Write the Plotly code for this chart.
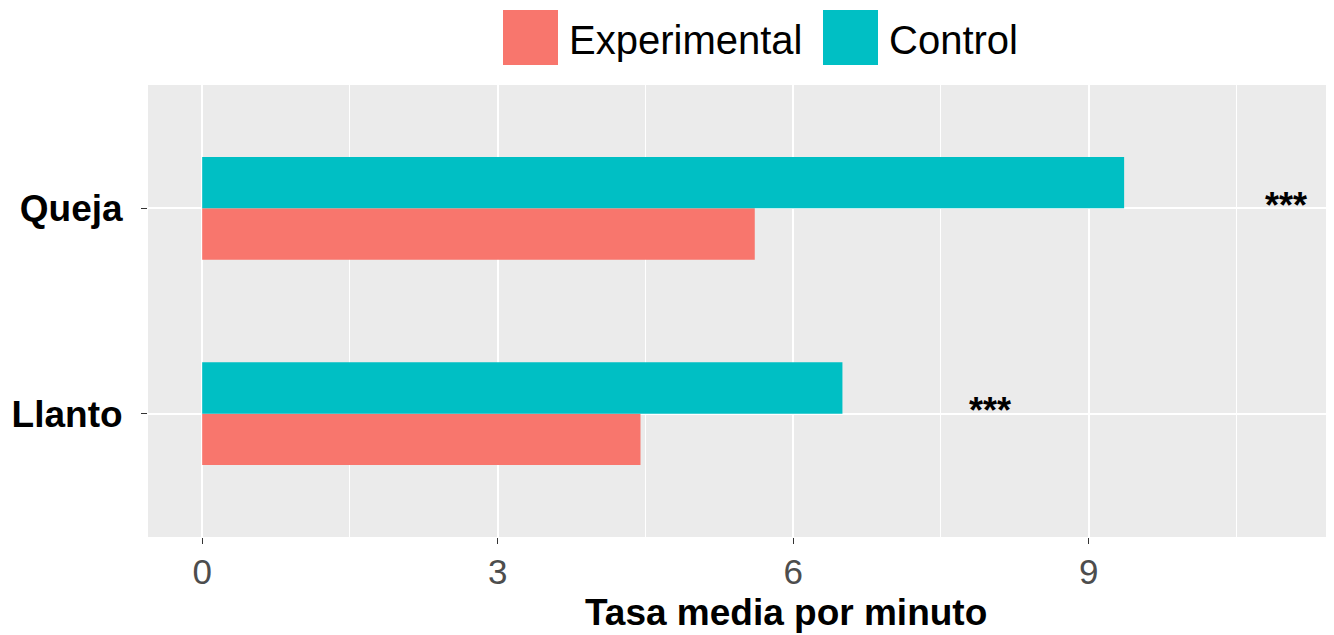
import plotly.graph_objects as go

# data
categories = ["Llanto", "Queja"]
experimental = [4.45, 5.61]
control = [6.50, 9.36]
sig_labels = ["***", "***"]
sig_x = [8.0, 11.0]

EXP_COLOR = "#F8766D"
CTL_COLOR = "#00BFC4"
FONT = "Liberation Sans, Arial, sans-serif"

# the page body adds an 8px margin, so the figure is drawn 8px smaller
OFF = 8
W, H = 1334 - OFF, 635 - OFF
L, R, T, B = 148 - OFF, 4, 85 - OFF, 635 - 537
pw, ph = W - L - R, H - T - B


def px_x(px):
    # page pixel -> paper fraction
    return (px - OFF - L) / pw


def px_y(py):
    return (H - B - (py - OFF)) / ph


fig = go.Figure()
fig.add_trace(go.Bar(y=categories, x=experimental, orientation="h", name="Experimental",
                     marker=dict(color=EXP_COLOR, line=dict(width=0)), showlegend=False))
fig.add_trace(go.Bar(y=categories, x=control, orientation="h", name="Control",
                     marker=dict(color=CTL_COLOR, line=dict(width=0)), showlegend=False))

# significance marks
for cat, sx, lab in zip(categories, sig_x, sig_labels):
    fig.add_annotation(x=sx, y=cat, text="<b>" + lab + "</b>", showarrow=False, xanchor="center",
                       yanchor="middle", yshift=3, font=dict(family=FONT, size=36, color="black"))

# x-axis title (centred as in the reference)
fig.add_annotation(x=px_x(786), y=px_y(612), xref="paper", yref="paper", text="<b>Tasa media por minuto</b>",
                   showarrow=False, xanchor="center", yanchor="middle",
                   font=dict(family=FONT, size=37, color="black"))

# legend drawn by hand so the keys are large like the reference
legend_items = [("Experimental", EXP_COLOR, 503), ("Control", CTL_COLOR, 823)]
for name, col, x0 in legend_items:
    fig.add_shape(type="rect", xref="paper", yref="paper", x0=px_x(x0), x1=px_x(x0 + 55),
                  y0=px_y(65), y1=px_y(10), fillcolor=col, line=dict(width=0))
    fig.add_annotation(x=px_x(x0 + 64), y=px_y(40), xref="paper", yref="paper", text=name,
                       showarrow=False, xanchor="left", yanchor="middle",
                       font=dict(family=FONT, size=40, color="black"))

fig.update_layout(
    width=W, height=H,
    margin=dict(l=L, r=R, t=T, b=B, autoexpand=False),
    barmode="group", bargap=0.5,
    plot_bgcolor="#EBEBEB", paper_bgcolor="white",
    font=dict(family=FONT),
)
fig.update_xaxes(range=[-0.55, 11.45], tickvals=[0, 3, 6, 9], ticktext=["0", "3", "6", "9"],
                 showgrid=True, gridcolor="white", gridwidth=2, automargin=False,
                 minor=dict(tickvals=[1.5, 4.5, 7.5, 10.5], showgrid=True, gridcolor="white", gridwidth=1),
                 zeroline=False, ticks="outside", ticklen=6, tickcolor="#333333", tickwidth=1,
                 ticklabelstandoff=-2,
                 tickfont=dict(family=FONT, size=35, color="#4D4D4D"), showline=False)
fig.update_yaxes(range=[-0.6, 1.6], categoryorder="array", categoryarray=categories,
                 showgrid=True, gridcolor="white", gridwidth=2, zeroline=False, automargin=False,
                 ticks="outside", ticklen=6, tickcolor="#333333", tickwidth=1,
                 ticklabelstandoff=11,
                 tickfont=dict(family=FONT, size=37, color="black", weight="bold"), showline=False)

fig.write_html("out.html")
